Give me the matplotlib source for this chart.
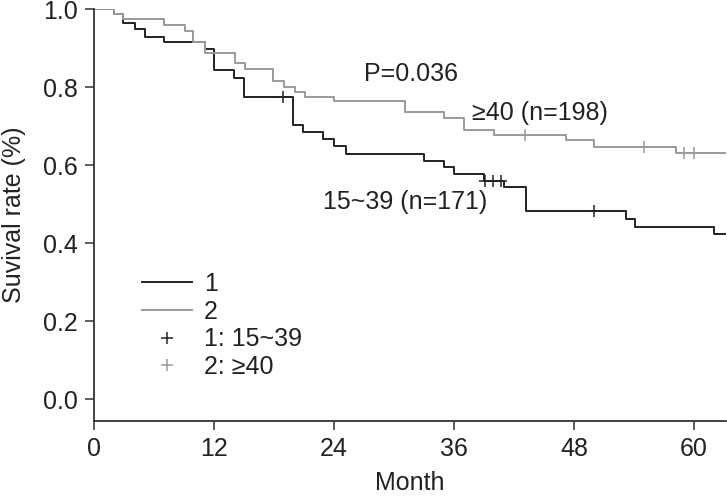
import matplotlib.pyplot as plt
from matplotlib.lines import Line2D

plt.rcParams['font.family'] = ['Liberation Sans', 'DejaVu Sans']

# group 1: 15~39 (n=171)
t1 = [0, 2.0, 2.9, 4.1, 5.1, 7.0, 11.1, 12.0, 14.0, 15.0, 19.9, 20.9, 22.9,
      24.0, 25.2, 33.0, 35.0, 36.0, 39.0, 41.0, 43.2, 53.2, 54.1, 62.0, 63.2]
s1 = [1.0, 0.987, 0.966, 0.949, 0.929, 0.915, 0.899, 0.845, 0.825, 0.774,
      0.704, 0.686, 0.667, 0.649, 0.629, 0.612, 0.595, 0.578, 0.561, 0.544,
      0.482, 0.463, 0.443, 0.423, 0.423]
c1_t = [18.9, 39.1, 39.9, 40.7, 50.0]
c1_s = [0.774, 0.561, 0.561, 0.561, 0.482]

# group 2: >=40 (n=198)
t2 = [0, 2.0, 2.9, 7.0, 9.1, 9.9, 11.1, 14.1, 15.1, 17.9, 19.0, 20.1, 21.1,
      24.0, 31.1, 35.0, 37.0, 40.0, 47.2, 50.0, 58.2, 63.2]
s2 = [1.0, 0.987, 0.976, 0.959, 0.944, 0.915, 0.889, 0.861, 0.847, 0.817,
      0.802, 0.789, 0.776, 0.764, 0.736, 0.720, 0.691, 0.678, 0.666, 0.648,
      0.632, 0.632]
c2_t = [43.1, 55.0, 59.0, 60.0]
c2_s = [0.678, 0.648, 0.632, 0.632]

xticks = [0, 12, 24, 36, 48, 60]
yticks = [0.0, 0.2, 0.4, 0.6, 0.8, 1.0]

dark = '#232323'
grey = '#9a9a9a'
fs = 18

fig = plt.figure(figsize=(7.27, 4.96), dpi=100)
ax = fig.add_axes([0.1293, 0.1512, 0.8693, 0.8301])

ax.step(t1, s1, where='post', color=dark, lw=1.4)
ax.step(t2, s2, where='post', color=grey, lw=1.4)
ax.plot(c1_t, c1_s, '+', color=dark, ms=9, mew=1.1)
ax.plot(c2_t, c2_s, '+', color=grey, ms=9, mew=1.1)

ax.set_xlim(0, 63.2)
ax.set_ylim(-0.0556, 1.0)
ax.set_xticks(xticks)
ax.set_yticks(yticks)
ax.set_yticklabels([f'{v:.1f}' for v in yticks])
ax.tick_params(direction='out', length=6.5, width=1.1, colors='#333333',
               labelsize=fs, labelcolor='#222222', pad=5)
for side in ['top', 'right']:
    ax.spines[side].set_visible(False)
for side in ['left', 'bottom']:
    ax.spines[side].set_color('#333333')
    ax.spines[side].set_linewidth(1.3)

ax.set_xlabel('Month', fontsize=fs, color='#222222', labelpad=7)
ax.set_ylabel('Suvival rate (%)', fontsize=fs, color='#222222', labelpad=12)

ax.text(27, 0.835, 'P=0.036', fontsize=fs, color='#222222', va='center')
ax.text(37.8, 0.733, '\u226540 (n=198)', fontsize=fs, color='#222222', va='center')
ax.text(22.9, 0.506, '15~39 (n=171)', fontsize=fs, color='#222222', va='center')

handles = [Line2D([], [], color=dark, lw=1.4),
           Line2D([], [], color=grey, lw=1.4),
           Line2D([], [], color=dark, ls='none', marker='+', ms=9, mew=1.1),
           Line2D([], [], color=grey, ls='none', marker='+', ms=9, mew=1.1)]
labels = ['1', '2', '1: 15~39', '2: \u226540']
leg = ax.legend(handles, labels, loc='upper left', bbox_to_anchor=(0.0755, 0.362),
                frameon=False, fontsize=fs, handlelength=2.0, handletextpad=0.5,
                labelspacing=0.15, borderpad=0, borderaxespad=0)
for txt in leg.get_texts():
    txt.set_color('#222222')

fig.savefig('out.png', dpi=100)
